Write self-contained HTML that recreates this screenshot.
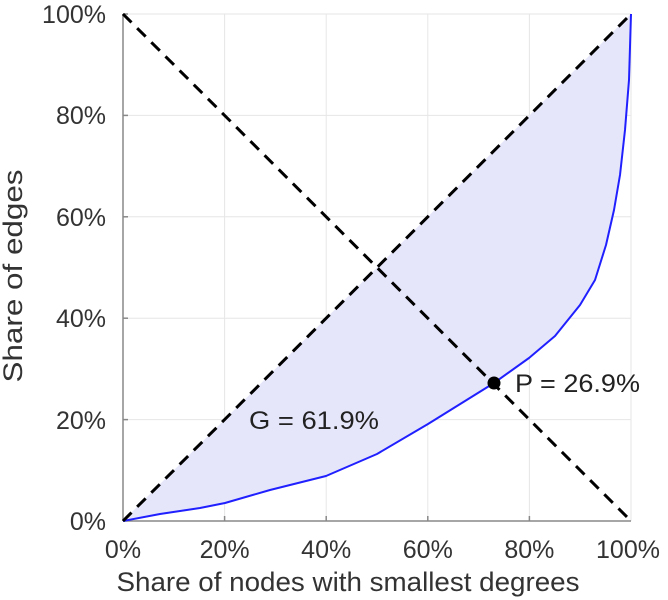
<!DOCTYPE html>
<html><head><meta charset="utf-8"><style>
html,body{margin:0;padding:0;background:#fff;}
svg{display:block;font-family:"Liberation Sans",sans-serif;}
</style></head><body>
<svg width="668" height="600" viewBox="0 0 668 600" xmlns="http://www.w3.org/2000/svg">
<g stroke="#e6e6e6" stroke-width="1">
<line x1="224.6" y1="14" x2="224.6" y2="521"/>
<line x1="326.2" y1="14" x2="326.2" y2="521"/>
<line x1="427.8" y1="14" x2="427.8" y2="521"/>
<line x1="529.4" y1="14" x2="529.4" y2="521"/>
<line x1="631" y1="14" x2="631" y2="521"/>
<line x1="123" y1="14" x2="631" y2="14"/>
<line x1="123" y1="115.4" x2="631" y2="115.4"/>
<line x1="123" y1="216.8" x2="631" y2="216.8"/>
<line x1="123" y1="318.2" x2="631" y2="318.2"/>
<line x1="123" y1="419.6" x2="631" y2="419.6"/>
</g>
<path d="M123,521 L160,514 L200,508 L225,503 L270,490 L326,476 L377,454 L428,424 L494,383 L529,358 L555,336 L580,305 L595,280 L606,245 L614,210 L620,175 L625,130 L629,80 L631,14 Z" fill="#e6e6fb" stroke="none"/>
<g stroke="#888" stroke-width="1.5">
<line x1="123" y1="14" x2="123" y2="521"/>
<line x1="123" y1="521" x2="631" y2="521"/>
<line x1="123" y1="14" x2="128" y2="14"/>
<line x1="123" y1="115.4" x2="128" y2="115.4"/>
<line x1="123" y1="216.8" x2="128" y2="216.8"/>
<line x1="123" y1="318.2" x2="128" y2="318.2"/>
<line x1="123" y1="419.6" x2="128" y2="419.6"/>
<line x1="224.6" y1="521" x2="224.6" y2="516"/>
<line x1="326.2" y1="521" x2="326.2" y2="516"/>
<line x1="427.8" y1="521" x2="427.8" y2="516"/>
<line x1="529.4" y1="521" x2="529.4" y2="516"/>
</g>
<path d="M123,521 L160,514 L200,508 L225,503 L270,490 L326,476 L377,454 L428,424 L494,383 L529,358 L555,336 L580,305 L595,280 L606,245 L614,210 L620,175 L625,130 L629,80 L631,14" fill="none" stroke="#2020ff" stroke-width="2" stroke-linejoin="round"/>
<g stroke="#000" stroke-width="3" stroke-dasharray="12,8" fill="none">
<line x1="123" y1="521" x2="631" y2="14"/>
<line x1="123" y1="14" x2="631" y2="521"/>
</g>
<circle cx="494" cy="383" r="6.5" fill="#000"/>
<g font-size="25" fill="#222">
<text x="515" y="392" textLength="125" lengthAdjust="spacingAndGlyphs">P = 26.9%</text>
<text x="249" y="429" textLength="130" lengthAdjust="spacingAndGlyphs">G = 61.9%</text>
</g>
<g font-size="25" fill="#333" text-anchor="end">
<text x="106" y="23">100%</text>
<text x="106" y="124">80%</text>
<text x="106" y="226">60%</text>
<text x="106" y="327">40%</text>
<text x="106" y="429">20%</text>
<text x="106" y="530">0%</text>
</g>
<g font-size="25" fill="#333" text-anchor="middle">
<text x="123" y="558">0%</text>
<text x="224.6" y="558">20%</text>
<text x="326.2" y="558">40%</text>
<text x="427.8" y="558">60%</text>
<text x="529.4" y="558">80%</text>
<text x="628" y="558">100%</text>
<text x="348" y="591" font-size="27" textLength="463" lengthAdjust="spacingAndGlyphs">Share of nodes with smallest degrees</text>
<text transform="translate(22,276) rotate(-90)" font-size="27" textLength="213" lengthAdjust="spacingAndGlyphs">Share of edges</text>
</g>
</svg>
</body></html>
